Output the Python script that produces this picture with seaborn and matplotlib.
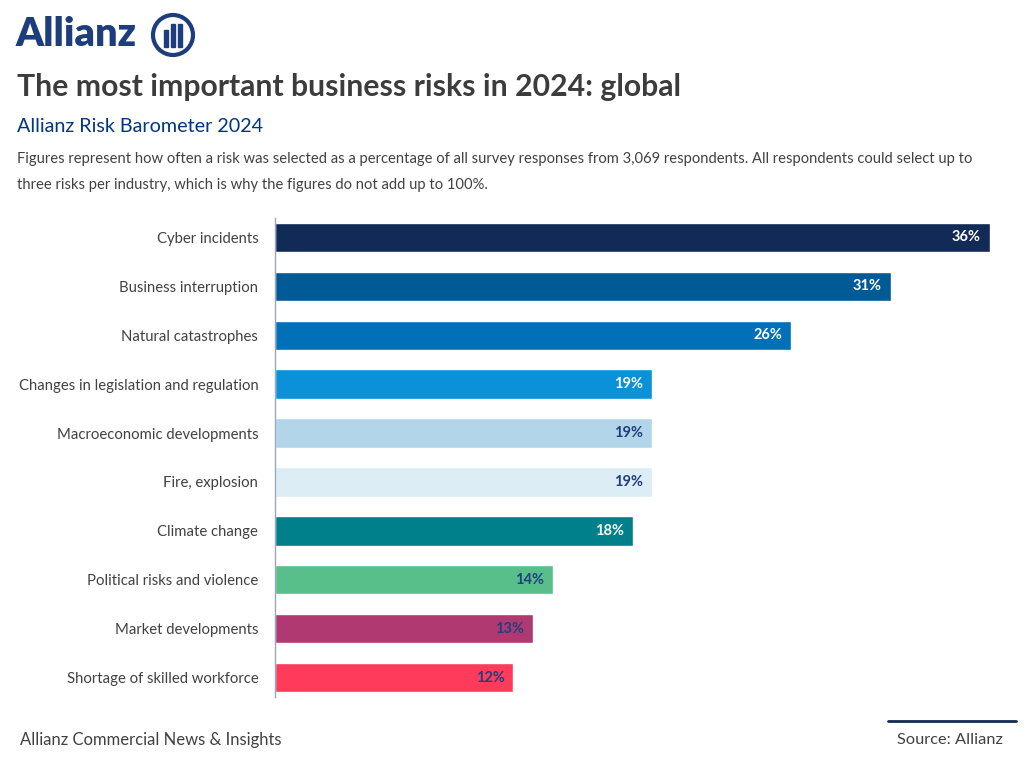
"""
Allianz Risk Barometer 2024 - top global business risks, horizontal bar chart.
"""
import matplotlib

matplotlib.use("Agg")
import matplotlib.pyplot as plt
import matplotlib.patches as mpatches
import pandas as pd
import seaborn as sns

risks = [
    "Cyber incidents",
    "Business interruption",
    "Natural catastrophes",
    "Changes in legislation and regulation",
    "Macroeconomic developments",
    "Fire, explosion",
    "Climate change",
    "Political risks and violence",
    "Market developments",
    "Shortage of skilled workforce",
]
shares = [36, 31, 26, 19, 19, 19, 18, 14, 13, 12]
bar_colors = [
    "#122a56", "#005a96", "#0070b8", "#0a91d8", "#b3d5ea",
    "#ddedf5", "#00808a", "#58bf8a", "#b03972", "#ff3b5c",
]
label_colors = [
    "white", "white", "white", "white", "#1f3f7f",
    "#1f3f7f", "white", "#1f3f7f", "#1f3f7f", "#1f3f7f",
]

NAVY = "#003781"
GREY = "#414141"

sns.set_theme(style="white")
plt.rcParams["font.family"] = ["Lato", "DejaVu Sans"]

df = pd.DataFrame({"risk": risks, "share": shares})

fig = plt.figure(figsize=(10.24, 7.68), dpi=100)
ax = fig.add_axes([275 / 1024, 1 - 702 / 768, 715 / 1024, 489 / 768])

sns.barplot(data=df, x="share", y="risk", hue="risk", palette=bar_colors,
            legend=False, width=0.6, ax=ax, saturation=1)
ax.set_xlim(0, 36)
ax.set_ylim(9.5, -0.5)
ax.set_xlabel("")
ax.set_ylabel("")
ax.set_xticks([])
ax.tick_params(axis="y", length=0, pad=12, labelsize=10.7, labelcolor=GREY)
for side in ["top", "right", "bottom"]:
    ax.spines[side].set_visible(False)
ax.spines["left"].set_color("#9aa6c2")
ax.spines["left"].set_linewidth(1)
ax.spines["left"].set_bounds(-0.4, 9.4)

for i, (v, c) in enumerate(zip(shares, label_colors)):
    ax.text(v - 0.45, i, f"{v}%", ha="right", va="center",
            fontsize=10.5, fontweight="bold", color=c)

# header: logo
fig.text(16 / 1024, 1 - 35 / 768, "Allianz", fontsize=28.5, fontweight="heavy",
         color="#1d3d7c", va="center", ha="left")
cx, cy, r = 173 / 1024, 1 - 35 / 768, 20
circle = mpatches.Ellipse((cx, cy), 2 * r / 1024, 2 * r / 768, fill=False,
                          edgecolor="#1d3d7c", linewidth=3.0,
                          transform=fig.transFigure)
fig.patches.append(circle)
for dx, top in [(-7, 4), (0, 10), (7, 10)]:
    fig.patches.append(mpatches.Rectangle(
        ((173 + dx - 2) / 1024, 1 - 47 / 768), 4 / 1024, (13 + top) / 768,
        color="#1d3d7c", transform=fig.transFigure))

fig.text(17 / 1024, 1 - 87 / 768,
         "The most important business risks in 2024: global",
         fontsize=21.7, fontweight="bold", color="#3c3c3c", va="center")
fig.text(17 / 1024, 1 - 126 / 768, "Allianz Risk Barometer 2024",
         fontsize=14.2, color=NAVY, va="center")
fig.text(17 / 1024, 1 - 159 / 768,
         "Figures represent how often a risk was selected as a percentage of all "
         "survey responses from 3,069 respondents. All respondents could select up to",
         fontsize=10.6, color=GREY, va="center")
fig.text(17 / 1024, 1 - 185 / 768,
         "three risks per industry, which is why the figures do not add up to 100%.",
         fontsize=10.6, color=GREY, va="center")

# footer
fig.add_artist(plt.Line2D([888 / 1024, 1016 / 1024], [1 - 721 / 768] * 2,
                          color="#122a56", linewidth=2))
fig.text(20 / 1024, 1 - 740 / 768, "Allianz Commercial News & Insights",
         fontsize=12, color=GREY, va="center")
fig.text(1003 / 1024, 1 - 740 / 768, "Source: Allianz",
         fontsize=11.8, color=GREY, va="center", ha="right")

fig.savefig("out.png", dpi=100)
